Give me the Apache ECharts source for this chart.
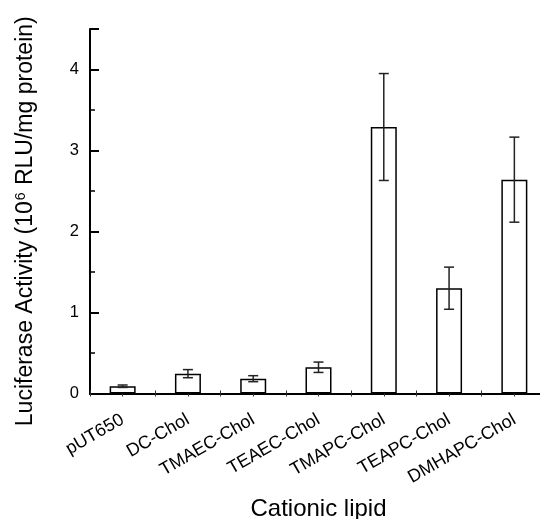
<!DOCTYPE html>
<html><head><meta charset="utf-8">
<script src="https://cdn.jsdelivr.net/npm/echarts@6/dist/echarts.min.js"></script>
<style>html,body{margin:0;padding:0;background:#fff}#c{width:540px;height:519px}</style>
</head><body><div id="c"></div>
<script>
var categories = ['pUT650','DC-Chol','TMAEC-Chol','TEAEC-Chol','TMAPC-Chol','TEAPC-Chol','DMHAPC-Chol'];
var values = [0.09, 0.245, 0.183, 0.324, 3.29, 1.30, 2.64];
var errors = [0.015, 0.05, 0.037, 0.064, 0.66, 0.26, 0.525];

var FONT = '"Liberation Sans", Arial, sans-serif';
var barData = values.map(function(v,i){ return [i+0.5, v]; });
var errData = values.map(function(v,i){ return [i+0.5, v-errors[i], v+errors[i]]; });

var chart = echarts.init(document.getElementById('c'), null, {renderer:'canvas'});
chart.setOption({
  animation:false,
  backgroundColor:'#fff',
  grid:{left:90, width:457, top:29, height:364.5, containLabel:false, outerBoundsMode:'none'},
  xAxis:[{
    type:'value', min:0, max:7, interval:0.5, position:'bottom',
    axisLine:{show:true, lineStyle:{color:'#000', width:2}},
    axisTick:{show:true, inside:true, length:3, lineStyle:{color:'#333', width:1}},
    splitLine:{show:false},
    axisLabel:{
      rotate:30, margin:25, fontFamily:FONT, fontSize:18, color:'#000',
      showMinLabel:true, showMaxLabel:true, hideOverlap:false,
      formatter:function(v){ var i=Math.floor(v); return (Math.abs(v-i-0.5)<1e-6 && categories[i]) ? categories[i] : ''; }
    },
    name:'Cationic lipid', nameLocation:'middle', nameGap:104,
    nameTextStyle:{fontFamily:FONT, fontSize:24, color:'#000'}
  },{
    type:'value', min:0, max:7, interval:0.5, position:'top',
    axisLine:{show:true, lineStyle:{color:'#000', width:2}},
    axisTick:{show:true, inside:true, length:3, lineStyle:{color:'#333', width:1}},
    axisLabel:{show:false}, splitLine:{show:false}
  }],
  yAxis:[{
    type:'value', min:0, max:4.5, interval:1, position:'left',
    axisLine:{show:true, lineStyle:{color:'#000', width:2}},
    axisTick:{show:true, inside:true, length:9, lineStyle:{color:'#000', width:2}},
    splitLine:{show:false},
    axisLabel:{fontFamily:FONT, fontSize:16.5, color:'#000', margin:11,
      formatter:function(v){ return (Math.abs(v-Math.round(v))<1e-6) ? String(Math.round(v)) : ''; }},
    name:'{a|Luciferase Activity (10}{s|6}{a| RLU/mg protein)}',
    nameLocation:'middle', nameGap:52, nameRotate:90,
    nameTextStyle:{padding:[0,20,0,0], rich:{
      a:{fontFamily:FONT, fontSize:23, color:'#000'},
      s:{fontFamily:FONT, fontSize:14, color:'#000', verticalAlign:'top', padding:[0,1,10,1]}
    }}
  },{
    type:'value', min:0, max:4.5, interval:0.5, position:'left',
    axisLine:{show:false},
    axisTick:{show:true, inside:true, length:5, lineStyle:{color:'#000', width:1.5}},
    axisLabel:{show:false}, splitLine:{show:false}
  }],
  series:[{
    type:'bar', xAxisIndex:0, yAxisIndex:0, data:barData, barWidth:26,
    itemStyle:{color:'#fff', borderColor:'#000', borderWidth:1.5},
    z:2
  },{
    type:'custom', xAxisIndex:0, yAxisIndex:0, data:errData, z:3,
    renderItem:function(params, api){
      var x = api.value(0);
      var lo = api.coord([x, api.value(1)]);
      var hi = api.coord([x, api.value(2)]);
      var w = 5;
      var st = {stroke:'#222', lineWidth:1.5};
      return {type:'group', children:[
        {type:'line', shape:{x1:lo[0], y1:lo[1], x2:hi[0], y2:hi[1]}, style:st},
        {type:'line', shape:{x1:lo[0]-w, y1:lo[1], x2:lo[0]+w, y2:lo[1]}, style:st},
        {type:'line', shape:{x1:hi[0]-w, y1:hi[1], x2:hi[0]+w, y2:hi[1]}, style:st}
      ]};
    }
  }]
});
</script></body></html>
